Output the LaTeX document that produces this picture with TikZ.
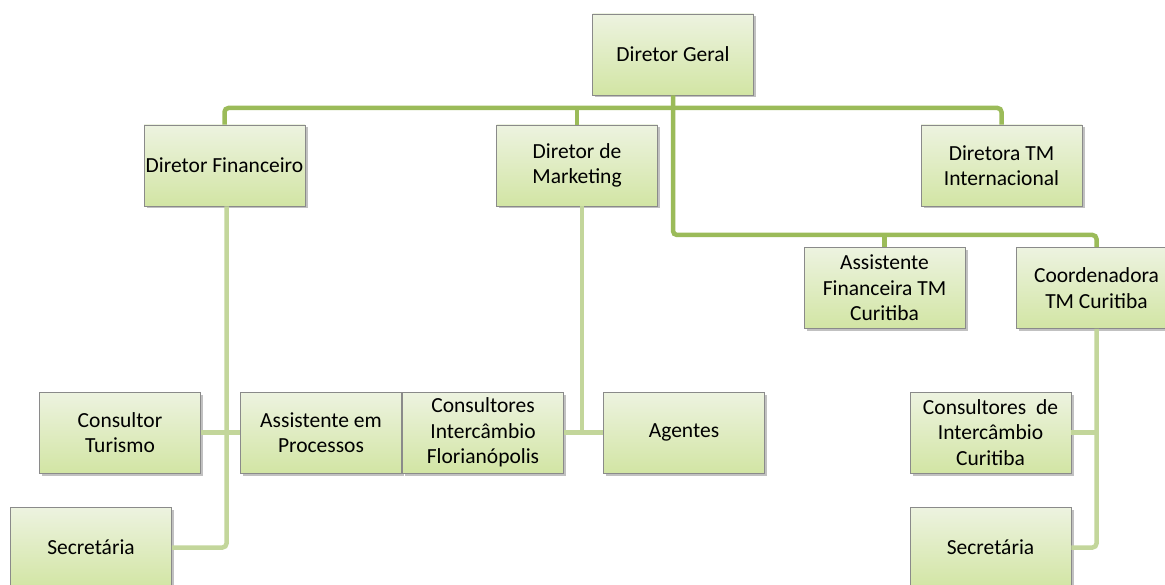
\documentclass[tikz,border=0pt]{standalone}
\usepackage{fontspec}
\setmainfont{Carlito}
\usetikzlibrary{shadows}
\definecolor{topc}{HTML}{EDF3E0}
\definecolor{botc}{HTML}{D2E5A4}
\definecolor{bordc}{HTML}{8A8A8A}
\definecolor{lineA}{HTML}{9BBB59}
\definecolor{lineB}{HTML}{C3D69B}
\tikzset{
  box/.style={rectangle, draw=bordc, line width=0.9pt, top color=topc, bottom color=botc,
    minimum width=161pt, minimum height=81pt, inner sep=1pt, align=center,
    font=\fontsize{21.5}{25.5}\selectfont,
    drop shadow={shadow xshift=2.5pt, shadow yshift=-2.5pt, opacity=0.35, fill=black!70}},
  linkA/.style={draw=lineA, line width=4.5pt, rounded corners=4pt},
  linkB/.style={draw=lineB, line width=4.5pt, rounded corners=4pt},
}
\begin{document}
\begin{tikzpicture}[x=1pt,y=-1pt]
\useasboundingbox (0,0) rectangle (1165,585);
\clip (0,0) rectangle (1165,585);
% nodes
\node[box] (dg) at (673,54.5) {Diretor Geral};
\node[box] (df) at (224.5,165.5) {Diretor Financeiro};
\node[box] (dm) at (577,165.5) {Diretor de\\Marketing};
\node[box] (dti) at (1001.5,165.5) {Diretora TM\\Internacional};
\node[box] (afc) at (884.5,288) {Assistente\\Financeira TM\\Curitiba};
\node[box] (coo) at (1096.5,288) {Coordenadora\\TM Curitiba};
\node[box] (ct) at (120,432.5) {Consultor\\Turismo};
\node[box] (ap) at (321,432.5) {Assistente em\\Processos};
\node[box] (cif) at (483,432.5) {Consultores\\Intercâmbio\\Florianópolis};
\node[box] (ag) at (684,432.5) {Agentes};
\node[box] (s1) at (91,547.5) {Secretária};
\node[box] (cic) at (990.5,432.5) {Consultores\ \ de\\Intercâmbio\\Curitiba};
\node[box] (s2) at (990.5,547.5) {Secretária};
% connectors level 1
\draw[linkA] (df.north) |- (dg.south |- 0,108) -| (dti.north);
\draw[linkA] (dm.north) -- (dm.north |- 0,108);
\draw[linkA] (dg.south) -- (dg.south |- 0,235) -| (coo.north);
\draw[linkA] (afc.north) -- (afc.north |- 0,235);
% connectors level 2
\draw[linkB] ([xshift=2pt]df.south) |- (s1.east);
\draw[linkB] (ct.east) -- (ap.west);
\draw[linkB] ([xshift=5pt]dm.south) -- ([xshift=5pt]dm.south |- cif.east);
\draw[linkB] (cif.east) -- (ag.west);
\draw[linkB] (coo.south) |- (s2.east);
\draw[linkB] (cic.east) -- (coo.south |- cic.east);
\end{tikzpicture}
\end{document}
